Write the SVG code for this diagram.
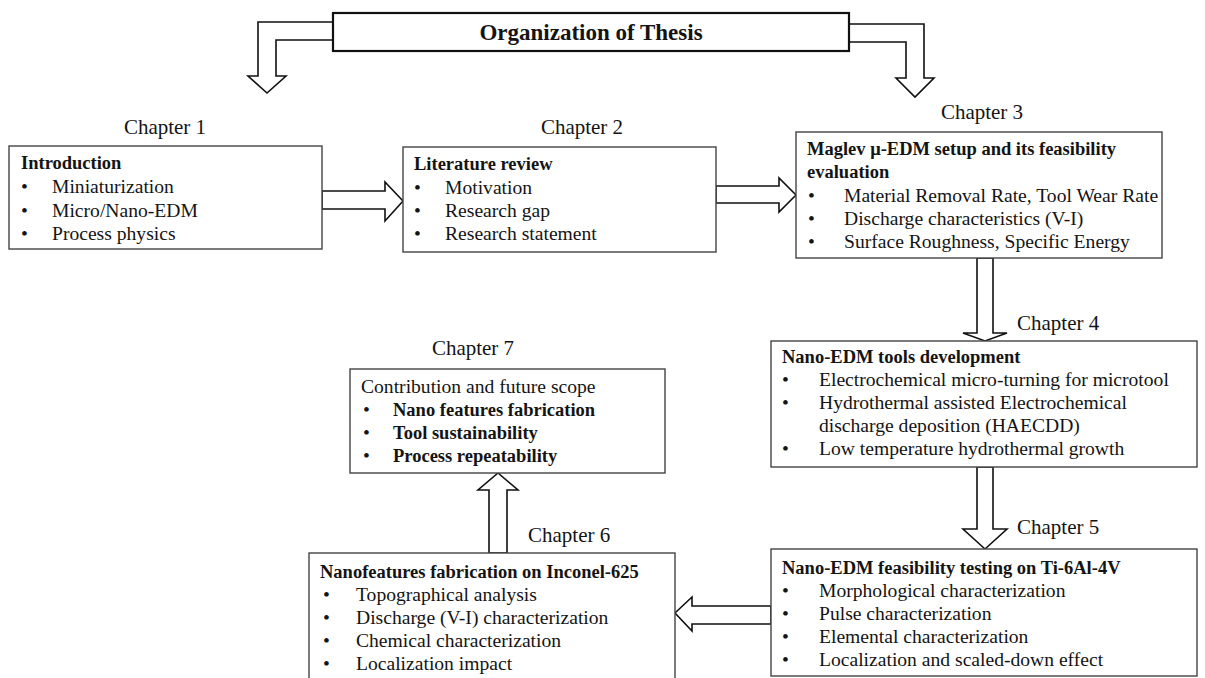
<svg xmlns="http://www.w3.org/2000/svg" width="1205" height="678" viewBox="0 0 1205 678">
  <style>
    text { font-family: "Liberation Serif", "DejaVu Serif", serif; font-size: 19.6px; fill: #141414; }
    .b { font-weight: bold; font-size: 18.5px; }
    .ch { font-size: 21px; }
    .title { font-size: 23px; font-weight: bold; }
    .box { fill: #fff; stroke: #444; stroke-width: 1.4; }
    .arrow { fill: #fff; stroke: #111; stroke-width: 1.6; stroke-linejoin: miter; }
    .banner { fill: #fff; stroke: #111; stroke-width: 2.2; }
  </style>
  <rect width="1205" height="678" fill="#fff"/>

  <!-- block arrows -->
  <g id="connectors">
    <polygon class="arrow" points="335,22 258,22 258,76 248,76 267,93 286,76 276,76 276,40 335,40"/>
    <polygon class="arrow" points="847,24 924,24 924,78 934,78 915,97 896,78 906,78 906,42 847,42"/>
    <polygon class="arrow" points="322,191 385,191 385,182 403,201 385,221 385,209 322,209"/>
    <polygon class="arrow" points="716,186 779,186 779,178 796,195 779,212 779,203 716,203"/>
    <polygon class="arrow" points="977,258 977,333 963,333 985,341 1007,333 993,333 993,258"/>
    <polygon class="arrow" points="977,467 977,529 963,529 985,549 1007,529 993,529 993,467"/>
    <polygon class="arrow" points="771,606 692,606 692,597 675,613 692,631 692,624 771,624"/>
    <polygon class="arrow" points="489,553 489,490 478,490 498,473 518,490 507,490 507,553"/>
  </g>

  <!-- title banner -->
  <g id="banner">
    <rect class="banner" x="333" y="13" width="516" height="38"/>
    <text class="title" x="591" y="40" text-anchor="middle">Organization of Thesis</text>
  </g>

  <g id="chapter1">
    <text class="ch" x="165" y="134" text-anchor="middle">Chapter 1</text>
    <rect class="box" x="9" y="146" width="313" height="103"/>
    <text class="b" x="21" y="169">Introduction</text>
    <text x="21" y="193">•</text><text x="52" y="193">Miniaturization</text>
    <text x="21" y="217">•</text><text x="52" y="217">Micro/Nano-EDM</text>
    <text x="21" y="240">•</text><text x="52" y="240">Process physics</text>
  </g>

  <g id="chapter2">
    <text class="ch" x="582" y="134" text-anchor="middle">Chapter 2</text>
    <rect class="box" x="403" y="147" width="313" height="105"/>
    <text class="b" x="414" y="170">Literature review</text>
    <text x="414" y="194">•</text><text x="445" y="194">Motivation</text>
    <text x="414" y="217">•</text><text x="445" y="217">Research gap</text>
    <text x="414" y="240">•</text><text x="445" y="240">Research statement</text>
  </g>

  <g id="chapter3">
    <text class="ch" x="982" y="119" text-anchor="middle">Chapter 3</text>
    <rect class="box" x="796" y="132" width="366" height="126"/>
    <text class="b" x="807" y="155">Maglev μ-EDM setup and its feasibility</text>
    <text class="b" x="807" y="178">evaluation</text>
    <text x="808" y="202">•</text><text x="844" y="202">Material Removal Rate, Tool Wear Rate</text>
    <text x="808" y="225">•</text><text x="844" y="225">Discharge characteristics (V-I)</text>
    <text x="808" y="248">•</text><text x="844" y="248">Surface Roughness, Specific Energy</text>
  </g>

  <g id="chapter4">
    <text class="ch" x="1017" y="330">Chapter 4</text>
    <rect class="box" x="771" y="341" width="426" height="126"/>
    <text class="b" x="782" y="363">Nano-EDM tools development</text>
    <text x="782" y="386">•</text><text x="819" y="386">Electrochemical micro-turning for microtool</text>
    <text x="782" y="409">•</text><text x="819" y="409">Hydrothermal assisted Electrochemical</text>
    <text x="819" y="432">discharge deposition (HAECDD)</text>
    <text x="782" y="455">•</text><text x="819" y="455">Low temperature hydrothermal growth</text>
  </g>

  <g id="chapter5">
    <text class="ch" x="1017" y="534">Chapter 5</text>
    <rect class="box" x="771" y="549" width="426" height="127"/>
    <text class="b" x="782" y="574">Nano-EDM feasibility testing on Ti-6Al-4V</text>
    <text x="782" y="597">•</text><text x="819" y="597">Morphological characterization</text>
    <text x="782" y="620">•</text><text x="819" y="620">Pulse characterization</text>
    <text x="782" y="643">•</text><text x="819" y="643">Elemental characterization</text>
    <text x="782" y="666">•</text><text x="819" y="666">Localization and scaled-down effect</text>
  </g>

  <g id="chapter6">
    <text class="ch" x="528" y="542">Chapter 6</text>
    <rect class="box" x="309" y="553" width="366" height="140"/>
    <text class="b" x="320" y="578">Nanofeatures fabrication on Inconel-625</text>
    <text x="323" y="601">•</text><text x="356" y="601">Topographical analysis</text>
    <text x="323" y="624">•</text><text x="356" y="624">Discharge (V-I) characterization</text>
    <text x="323" y="647">•</text><text x="356" y="647">Chemical characterization</text>
    <text x="323" y="670">•</text><text x="356" y="670">Localization impact</text>
  </g>

  <g id="chapter7">
    <text class="ch" x="473" y="355" text-anchor="middle">Chapter 7</text>
    <rect class="box" x="350" y="369" width="315" height="104"/>
    <text x="361" y="393">Contribution and future scope</text>
    <text x="363" y="416">•</text><text class="b" x="393" y="416">Nano features fabrication</text>
    <text x="363" y="439">•</text><text class="b" x="393" y="439">Tool sustainability</text>
    <text x="363" y="462">•</text><text class="b" x="393" y="462">Process repeatability</text>
  </g>
</svg>
